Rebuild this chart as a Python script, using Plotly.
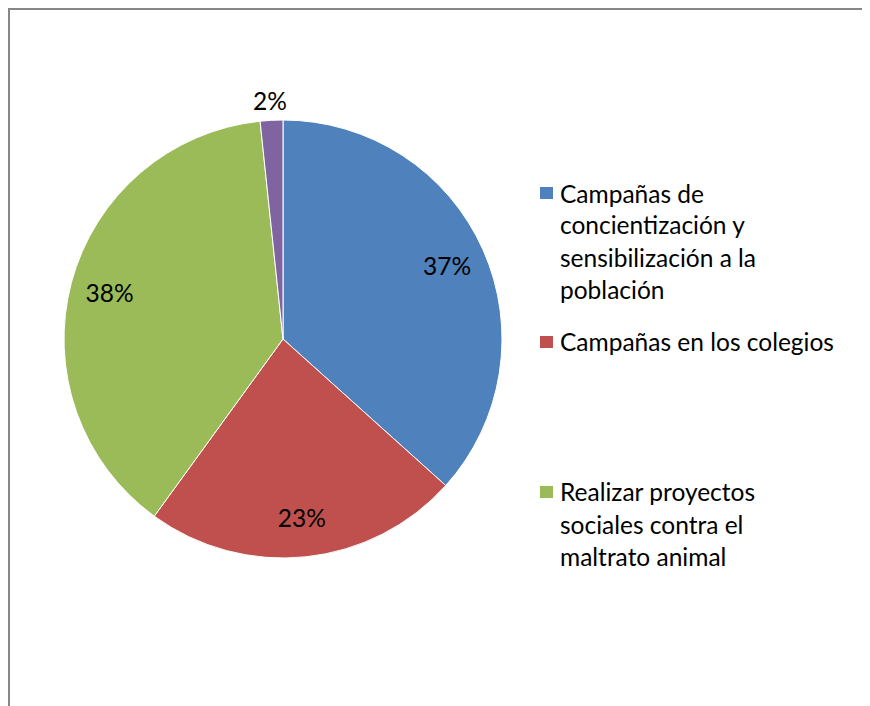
import math
import plotly.graph_objects as go

# page body has an 8px margin; keep the paper inside the window
W, H = 862, 698
OFF = 8

categories = [
    'Campañas de concientización y sensibilización a la población',
    'Campañas en los colegios',
    'Realizar proyectos sociales contra el maltrato animal',
    'Otros',
]
counts = [22, 14, 23, 1]
colors = ['#4F81BD', '#C0504D', '#9BBB59', '#8064A2']

# legend text as it wraps in the original (the last slice has no entry)
legend_lines = [
    ['Campañas de', 'concientización y', 'sensibilización a la', 'población'],
    ['Campañas en los colegios'],
    ['Realizar proyectos', 'sociales contra el', 'maltrato animal'],
]

FONT = 'Lato'
FSIZE = 24.5


def px_x(x):
    return (x - OFF) / W


def px_y(y):
    return 1 - (y - OFF) / H


cx, cy, r = 283, 339, 219
domain = dict(x=[px_x(cx - r), px_x(cx + r)], y=[px_y(cy + r), px_y(cy - r)])
font = dict(family=FONT, size=FSIZE, color='black')

fig = go.Figure()
fig.add_trace(go.Pie(
    labels=categories,
    values=counts,
    sort=False,
    direction='clockwise',
    rotation=0,
    marker=dict(colors=colors, line=dict(color='white', width=1)),
    textinfo='none',
    showlegend=False,
    hoverinfo='label+percent',
    domain=domain,
))
# transparent ring on top so inside labels sit near the rim like the original
fig.add_trace(go.Pie(
    labels=categories,
    values=counts,
    sort=False,
    direction='clockwise',
    rotation=0,
    hole=0.64,
    marker=dict(colors=['rgba(0,0,0,0)'] * 4, line=dict(width=0)),
    texttemplate='%{percent:.0%}',
    textposition=['inside', 'inside', 'inside', 'none'],
    insidetextorientation='horizontal',
    textfont=font, insidetextfont=font,
    showlegend=False,
    hoverinfo='skip',
    domain=domain,
))

# small slice label just outside the rim, at the middle angle of that slice
total = sum(counts)
mid = (sum(counts[:-1]) + counts[-1] / 2) / total * 2 * math.pi
lr = r + 20
annotations = [dict(text=f'{counts[-1] / total:.0%}', xref='paper', yref='paper',
                    x=px_x(cx + lr * math.sin(mid)), y=px_y(cy - lr * math.cos(mid)),
                    xanchor='center', yanchor='middle', showarrow=False, font=font)]

# chart area border: only the left and top edges are inside the crop
shapes = [
    dict(type='line', xref='paper', yref='paper', x0=px_x(9), x1=px_x(9), y0=-0.05, y1=px_y(8),
         line=dict(color='#878787', width=2)),
    dict(type='line', xref='paper', yref='paper', x0=px_x(8), x1=1.05, y0=px_y(9), y1=px_y(9),
         line=dict(color='#878787', width=2)),
]
tops = [193, 342, 492]
for i, lines in enumerate(legend_lines):
    y0 = tops[i]
    shapes.append(dict(type='rect', xref='paper', yref='paper',
                       x0=px_x(540), x1=px_x(553), y0=px_y(y0 + 6), y1=px_y(y0 - 6),
                       line=dict(width=0), fillcolor=colors[i]))
    for j, txt in enumerate(lines):
        annotations.append(dict(text=txt, xref='paper', yref='paper',
                                x=px_x(558), y=px_y(y0 + j * 32),
                                xanchor='left', yanchor='middle', showarrow=False,
                                font=font))

fig.update_layout(
    width=W, height=H,
    margin=dict(l=0, r=0, t=0, b=0),
    font=dict(family=FONT, color='black'),
    paper_bgcolor='white',
    plot_bgcolor='white',
    shapes=shapes,
    annotations=annotations,
)

# no scrollbars in the screenshot
fig.write_html('out.html', post_script="document.body.style.overflow = 'hidden';")
